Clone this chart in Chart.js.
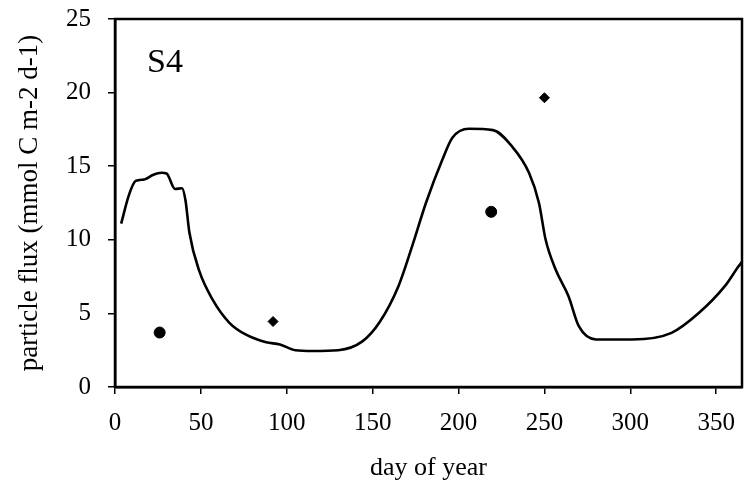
<!DOCTYPE html>
<html>
<head>
<meta charset="utf-8">
<script src="https://cdn.jsdelivr.net/npm/chart.js@4.4.1/dist/chart.umd.min.js"></script>
<style>
  html, body { margin: 0; padding: 0; background: #fff; }
  #wrap { width: 744px; height: 487px; }
</style>
</head>
<body>
<div id="wrap"><canvas id="flux"></canvas></div>
<script>
// model curve (day of year vs particle flux)
const curveDays = [3.6, 8, 12, 17, 22, 27, 30, 35, 39, 41, 43.3, 49, 57, 66.6, 76, 88, 96, 105, 115, 130,
  144, 154, 165, 173, 181, 190.6, 196.4, 206, 220, 231, 241, 246.8, 250.7, 256.5, 264, 270, 280, 301,
  324, 340, 355, 363, 365];
const curveFlux = [11.1, 13.0, 14.0, 14.1, 14.4, 14.55, 14.5, 13.45, 13.5, 12.7, 10.5, 7.9, 5.9, 4.36, 3.57, 3.04, 2.89, 2.5, 2.45, 2.5,
  3.1, 4.4, 6.85, 9.57, 12.5, 15.45, 16.93, 17.54, 17.45, 16.36, 14.55, 12.5, 10.0, 7.98, 6.17, 4.13, 3.23, 3.23,
  3.68, 5.04, 6.85, 8.2, 8.5];

// observations
const circleDays = [26, 219];
const circleFlux = [3.7, 11.9];
const diamondDays = [92, 250];
const diamondFlux = [4.45, 19.65];

const xTicks = [0, 50, 100, 150, 200, 250, 300, 350];
const yTicks = [0, 5, 10, 15, 20, 25];

const SERIF = "'Liberation Serif', 'Times New Roman', serif";

const toXY = (xs, ys) => xs.map((x, i) => ({ x, y: ys[i] }));

// frame round the plot area + panel label
const boxPlugin = {
  id: 'box',
  afterDraw(chart) {
    const { ctx, chartArea: a } = chart;
    ctx.save();
    ctx.strokeStyle = '#000';
    ctx.lineWidth = 2.5;
    ctx.strokeRect(a.left, a.top, a.right - a.left, a.bottom - a.top);
    ctx.fillStyle = '#000';
    ctx.font = '34px ' + SERIF;
    ctx.textBaseline = 'alphabetic';
    ctx.fillText('S4', a.left + 32, a.top + 53);
    ctx.restore();
  },
};

new Chart(document.getElementById('flux'), {
  type: 'scatter',
  data: {
    datasets: [
      {
        data: toXY(curveDays, curveFlux),
        showLine: true,
        borderColor: '#000',
        borderWidth: 2.6,
        pointRadius: 0,
        cubicInterpolationMode: 'monotone',
      },
      {
        data: toXY(circleDays, circleFlux),
        pointStyle: 'circle',
        pointRadius: 5.5,
        backgroundColor: '#000',
        borderColor: '#000',
      },
      {
        data: toXY(diamondDays, diamondFlux),
        pointStyle: 'rectRot',
        pointRadius: 5,
        backgroundColor: '#000',
        borderColor: '#000',
      },
    ],
  },
  options: {
    responsive: true,
    maintainAspectRatio: false,
    animation: false,
    layout: { autoPadding: false, padding: { top: 19, right: 2, left: 0, bottom: 0 } },
    plugins: { legend: { display: false }, tooltip: { enabled: false } },
    scales: {
      x: {
        type: 'linear',
        min: 0,
        max: 365,
        afterFit: s => { s.height = 100; s.paddingLeft = 0; s.paddingRight = 0; },
        afterBuildTicks: s => { s.ticks = xTicks.map(v => ({ value: v })); },
        border: { display: true, color: '#000', width: 2.5 },
        grid: { drawOnChartArea: false, drawTicks: true, tickLength: 7, color: '#000', lineWidth: 1.5 },
        ticks: { color: '#000', font: { family: SERIF, size: 25 }, padding: 14, maxRotation: 0 },
        title: { display: true, text: 'day of year', color: '#000',
                 font: { family: SERIF, size: 26 }, padding: { top: 0, bottom: 3 } },
      },
      y: {
        type: 'linear',
        min: 0,
        max: 25,
        afterFit: s => { s.width = 115; s.paddingTop = 0; s.paddingBottom = 0; },
        afterBuildTicks: s => { s.ticks = yTicks.map(v => ({ value: v })); },
        border: { display: true, color: '#000', width: 2.5 },
        grid: { drawOnChartArea: false, drawTicks: true, tickLength: 7, color: '#000', lineWidth: 1.5 },
        ticks: { color: '#000', font: { family: SERIF, size: 25 }, padding: 17 },
        title: { display: true, text: 'particle flux (mmol C m-2 d-1)', color: '#000',
                 font: { family: SERIF, size: 27 }, padding: { top: 14, bottom: 0 } },
      },
    },
  },
  plugins: [boxPlugin],
});
</script>
</body>
</html>
